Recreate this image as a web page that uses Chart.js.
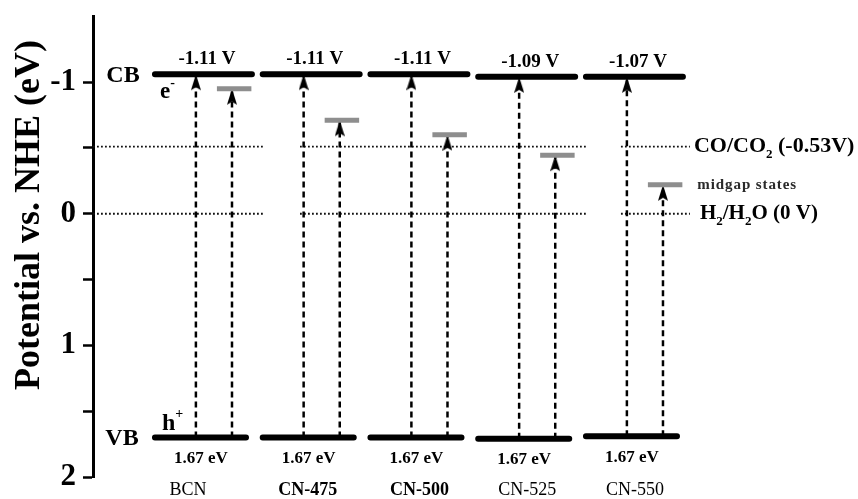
<!DOCTYPE html>
<html>
<head>
<meta charset="utf-8">
<script src="https://cdn.jsdelivr.net/npm/chart.js@4.4.1/dist/chart.umd.min.js"></script>
<style>
  html, body { margin: 0; padding: 0; background: #fff; }
</style>
</head>
<body>
<canvas id="bandChart" width="858" height="499"></canvas>
<script>
// band positions (V vs NHE, negative = up)
const categories = ["BCN", "CN-475", "CN-500", "CN-525", "CN-550"];
const cbPotential = [-1.06, -1.06, -1.06, -1.04, -1.04];
const vbPotential = [1.70, 1.70, 1.70, 1.71, 1.69];
const midgapPotential = [-0.95, -0.71, -0.60, -0.445, -0.22];
const cbLabels = ["-1.11 V", "-1.11 V", "-1.11 V", "-1.09 V", "-1.07 V"];
const gapLabels = ["1.67 eV", "1.67 eV", "1.67 eV", "1.67 eV", "1.67 eV"];
const boldCategory = [false, true, true, false, false];
const redoxPotential = [-0.51, 0];
const redoxLabels = ["CO/CO_2 (-0.53V)", "H_2/H_2O (0 V)"];
const yTickStep = 0.5;

// layout (category units)
const cbSpan = [-0.455, 0.445];
const vbSpan = [-0.455, 0.39];
const gapSpan = [0.12, 0.44];
const cbArrowOffset = -0.075;
const gapArrowOffset = 0.26;
const refSegments = [[-1.03, 0.566], [0.891, 3.554], [3.87, 4.51]];
const labelNudge = [-16, -4, 0, 0, 0];
const FONT = '"Liberation Serif", "Times New Roman", serif';

// arrow head as a point image, tip sits at the image centre
const arrowHead = document.createElement("canvas");
arrowHead.width = 10;
arrowHead.height = 34;
(function () {
	const g = arrowHead.getContext("2d");
	g.fillStyle = "#000";
	g.beginPath();
	g.moveTo(5, 17);
	g.lineTo(10, 33);
	g.lineTo(5, 30);
	g.lineTo(0, 33);
	g.closePath();
	g.fill();
})();

function segments(spans) {
	const pts = [];
	spans.forEach((s) => {
		pts.push(...s.pts, { x: s.pts[1].x, y: null });
	});
	return pts;
}

const cbData = segments(categories.map((c, i) => ({
	pts: [{ x: i + cbSpan[0], y: cbPotential[i] }, { x: i + cbSpan[1], y: cbPotential[i] }],
})));
const vbData = segments(categories.map((c, i) => ({
	pts: [{ x: i + vbSpan[0], y: vbPotential[i] }, { x: i + vbSpan[1], y: vbPotential[i] }],
})));
const midgapData = segments(categories.map((c, i) => ({
	pts: [{ x: i + gapSpan[0], y: midgapPotential[i] }, { x: i + gapSpan[1], y: midgapPotential[i] }],
})));
const arrowData = segments(categories.flatMap((c, i) => [
	{ pts: [{ x: i + cbArrowOffset, y: vbPotential[i] }, { x: i + cbArrowOffset, y: cbPotential[i], head: true }] },
	{ pts: [{ x: i + gapArrowOffset, y: vbPotential[i] }, { x: i + gapArrowOffset, y: midgapPotential[i], head: true }] },
]));
const refData = segments(redoxPotential.flatMap((v) =>
	refSegments.map((s) => ({ pts: [{ x: s[0], y: v }, { x: s[1], y: v }] }))
));

function parseRich(str) {
	const parts = [];
	let buf = "";
	for (let i = 0; i < str.length; i++) {
		const c = str[i];
		if ((c === "_" || c === "^") && i + 1 < str.length) {
			if (buf) parts.push({ t: buf, s: 0 });
			buf = "";
			parts.push({ t: str[i + 1], s: c === "_" ? 1 : -1 });
			i++;
		} else buf += c;
	}
	if (buf) parts.push({ t: buf, s: 0 });
	return parts;
}

function drawRich(ctx, str, x, y, size, weight, align, spacing) {
	const parts = parseRich(str);
	const fontFor = (p) => `${weight} ${p.s ? Math.round(size * 0.6) : size}px ${FONT}`;
	ctx.letterSpacing = (spacing || 0) + "px";
	let total = 0;
	parts.forEach((p) => {
		ctx.font = fontFor(p);
		p.w = ctx.measureText(p.t).width;
		total += p.w;
	});
	let cx = align === "center" ? x - total / 2 : align === "right" ? x - total : x;
	ctx.textAlign = "left";
	ctx.textBaseline = "middle";
	parts.forEach((p) => {
		ctx.font = fontFor(p);
		ctx.fillText(p.t, cx, y + p.s * size * 0.38);
		cx += p.w;
	});
	ctx.letterSpacing = "0px";
}

const annotationText = {
	id: "annotationText",
	afterDraw(chart) {
		const ctx = chart.ctx;
		const xs = chart.scales.x;
		const ys = chart.scales.y;
		ctx.save();
		ctx.fillStyle = "#000";

		categories.forEach((c, i) => {
			const cx = xs.getPixelForValue(i);
			drawRich(ctx, cbLabels[i], cx + 3, ys.getPixelForValue(cbPotential[i]) - 15, 19, "bold", "center");
			drawRich(ctx, gapLabels[i], cx - 3, ys.getPixelForValue(vbPotential[i]) + 21, 17, "bold", "center");
			drawRich(ctx, c, cx + labelNudge[i], 490, 18, boldCategory[i] ? "bold" : "normal", "center");
		});

		// band edge tags
		drawRich(ctx, "CB", 123, ys.getPixelForValue(cbPotential[0]) + 2, 24, "bold", "center");
		drawRich(ctx, "VB", 122, ys.getPixelForValue(vbPotential[0]) + 1, 24, "bold", "center");
		drawRich(ctx, "e^-", 160, ys.getPixelForValue(cbPotential[0]) + 18, 23, "bold", "left");
		drawRich(ctx, "h^+", 162, ys.getPixelForValue(vbPotential[0]) - 14, 24, "bold", "left");

		// redox couples and midgap legend
		const refEnd = xs.getPixelForValue(refSegments[refSegments.length - 1][1]);
		drawRich(ctx, redoxLabels[0], refEnd + 4, ys.getPixelForValue(redoxPotential[0]), 22, "bold", "left");
		drawRich(ctx, redoxLabels[1], refEnd + 10, ys.getPixelForValue(redoxPotential[1]), 21, "bold", "left");
		ctx.fillStyle = "#2a2a2a";
		drawRich(ctx, "midgap states", xs.getPixelForValue(4 + gapSpan[1]) + 15,
			ys.getPixelForValue(midgapPotential[4]), 15, "bold", "left", 0.9);

		// axis title
		ctx.fillStyle = "#000";
		ctx.translate(30, 215);
		ctx.rotate(-Math.PI / 2);
		drawRich(ctx, "Potential vs. NHE (eV)", 0, 0, 36, "bold", "center");
		ctx.restore();
	},
};

new Chart(document.getElementById("bandChart"), {
	type: "line",
	data: {
		datasets: [
			{
				data: cbData,
				borderColor: "#000",
				borderWidth: 6,
				borderCapStyle: "round",
				pointRadius: 0,
				order: 0,
			},
			{
				data: vbData,
				borderColor: "#000",
				borderWidth: 6,
				borderCapStyle: "round",
				pointRadius: 0,
				order: 0,
			},
			{
				data: midgapData,
				borderColor: "#8e8e8e",
				borderWidth: 5,
				pointRadius: 0,
				order: 1,
			},
			{
				data: arrowData,
				borderColor: "#000",
				borderWidth: 2.5,
				borderDash: [6, 4],
				pointStyle: arrowHead,
				pointRadius: (c) => (c.raw && c.raw.head ? 5 : 0),
				pointHoverRadius: 0,
				order: 2,
			},
			{
				data: refData,
				borderColor: "#111",
				borderWidth: 1.8,
				borderDash: [1.8, 2.2],
				pointRadius: 0,
				order: 3,
			},
		],
	},
	options: {
		responsive: false,
		animation: false,
		events: [],
		layout: { padding: { top: 14, bottom: 22, left: 0, right: 0 } },
		plugins: {
			legend: { display: false },
			tooltip: { enabled: false },
		},
		scales: {
			x: { type: "linear", display: false, min: -1.03, max: 6.07 },
			y: {
				type: "linear",
				reverse: true,
				min: -1.5,
				max: 2,
				afterFit: (s) => { s.width = 93; },
				afterBuildTicks: (s) => { s.ticks = s.ticks.filter((t) => t.value > -1.5); },
				ticks: {
					stepSize: yTickStep,
					padding: 7,
					color: "#000",
					font: { family: FONT, size: 31, weight: "bold", lineHeight: 0.6 },
					callback: (v) => (Number.isInteger(v) ? String(v) : ""),
				},
				grid: {
					drawOnChartArea: false,
					drawTicks: true,
					tickLength: 10,
					tickWidth: 2.5,
					tickColor: "#000",
				},
				border: { display: true, width: 3, color: "#000" },
			},
		},
	},
	plugins: [annotationText],
});
</script>
</body>
</html>
